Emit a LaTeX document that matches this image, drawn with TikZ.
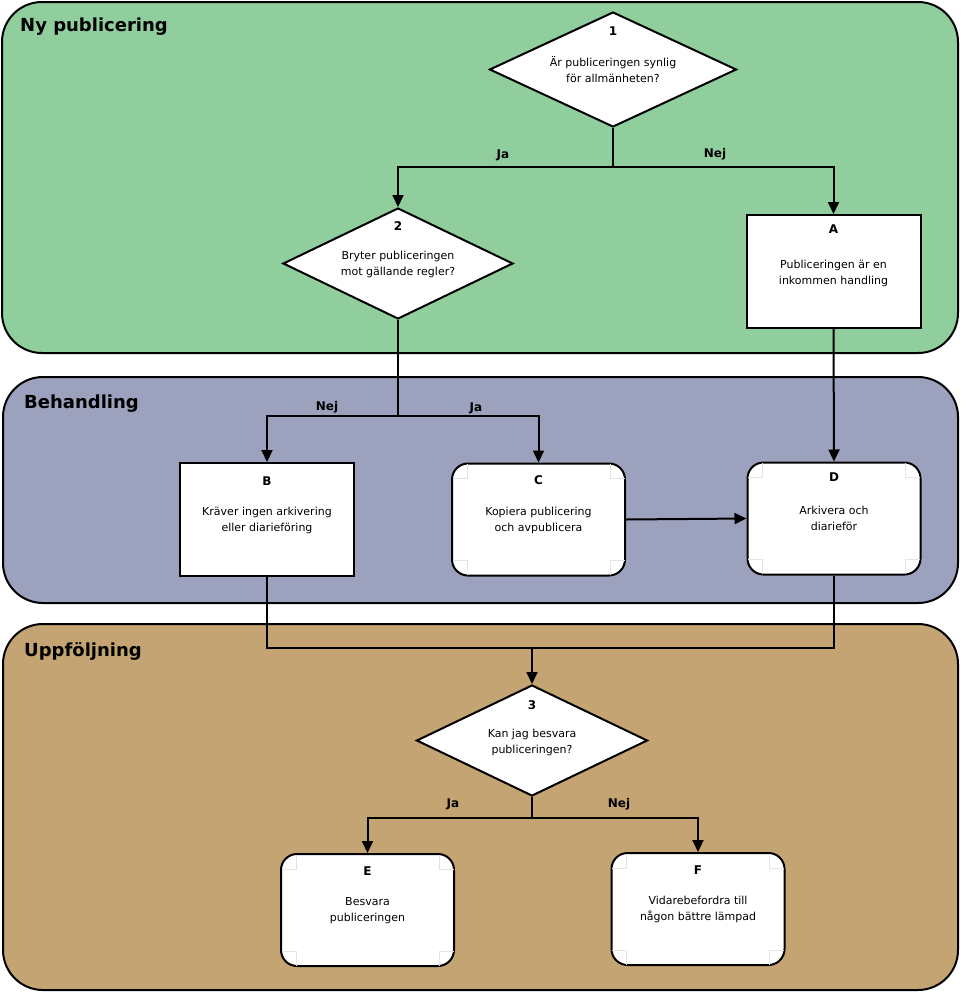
\documentclass[tikz,border=0pt]{standalone}
\usepackage{fontspec}
\setmainfont{DejaVu Sans}
\usetikzlibrary{arrows.meta,shapes.geometric}
\definecolor{laneA}{RGB}{144,206,158}
\definecolor{laneB}{RGB}{156,161,190}
\definecolor{laneC}{RGB}{196,164,114}
\definecolor{markc}{RGB}{228,228,228}
\tikzset{
  lane/.style={draw=black, line width=2pt, rounded corners=40pt},
  lanetitle/.style={anchor=west, inner sep=0pt, font=\bfseries\fontsize{18}{20}\selectfont},
  diam/.style={diamond, draw=black, fill=white, line width=2pt, inner sep=0pt, minimum width=#1},
  sqbox/.style={rectangle, draw=black, fill=white, line width=2pt, inner sep=0pt, minimum width=174pt, minimum height=113pt},
  rbox/.style={rectangle, rounded corners=16pt, draw=black, fill=white, line width=2pt, inner sep=0pt, minimum width=173pt, minimum height=112pt},
  letter/.style={inner sep=0pt, font=\bfseries\fontsize{12}{13}\selectfont},
  body/.style={inner sep=0pt, align=center, font=\fontsize{11}{16}\selectfont},
  elabel/.style={inner sep=0pt, font=\bfseries\fontsize{12}{13}\selectfont},
  conn/.style={line width=2pt, -{Triangle[length=12pt,width=11pt]}},
  plain/.style={line width=2pt},
  cornermark/.style={draw=markc, line width=0.8pt}
}
\begin{document}
\begin{tikzpicture}[x=1pt,y=-1pt]
\useasboundingbox (0,0) rectangle (961,993);
% lanes
\path[lane, fill=laneA] (2,2) rectangle (958,353);
\path[lane, fill=laneB] (3,377) rectangle (958,603);
\path[lane, fill=laneC] (3,624) rectangle (958,990);
\node[lanetitle] (t1) at (20,27) {Ny publicering};
\node[lanetitle] (t2) at (24,404) {Behandling};
\node[lanetitle] (t3) at (24,651) {Uppföljning};

% decision 1
\node[diam=247pt, minimum height=115pt] (d1) at (613,69.5) {};
\node[letter] (d1l) at (613,31) {1};
\node[body] (d1t) at (613,70) {Är publiceringen synlig\\för allmänheten?};
% decision 2
\node[diam=230pt, minimum height=111pt] (d2) at (398,263.5) {};
\node[letter] (d2l) at (398,226) {2};
\node[body] (d2t) at (398,264) {Bryter publiceringen\\mot gällande regler?};
% box A
\node[sqbox] (A) at (833.5,271.5) {};
\node[letter] (Al) at (833.5,229) {A};
\node[body] (At) at (833.5,273) {Publiceringen är en\\inkommen handling};
% box B
\node[sqbox] (B) at (267,519.5) {};
\node[letter] (Bl) at (267,481) {B};
\node[body] (Bt) at (267,520) {Kräver ingen arkivering\\eller diarieföring};
% box C
\node[rbox] (C) at (538.5,519.5) {};
\node[letter] (Cl) at (538.5,480) {C};
\node[body] (Ct) at (538.5,520) {Kopiera publicering\\och avpublicera};
% box D
\node[rbox] (D) at (834,518.5) {};
\node[letter] (Dl) at (834,477) {D};
\node[body] (Dt) at (834,518) {Arkivera och\\diarieför};
% decision 3
\node[diam=231pt, minimum height=111pt] (d3) at (532,740.5) {};
\node[letter] (d3l) at (532,705) {3};
\node[body] (d3t) at (532,742) {Kan jag besvara\\publiceringen?};
% box E
\node[rbox] (E) at (367.5,910) {};
\node[letter] (El) at (367.5,871) {E};
\node[body] (Et) at (367.5,911) {Besvara\\publiceringen};
% box F
\node[rbox] (F) at (698,909) {};
\node[letter] (Fl) at (698,870) {F};
\node[body] (Ft) at (698,909) {Vidarebefordra till\\någon bättre lämpad};

% faint corner marks in rounded boxes
\foreach \n in {C,D,E,F}{
  \draw[cornermark] (\n.north west) ++(16,1.5) -- ++(0,14.5) -- ++(-14.5,0);
  \draw[cornermark] (\n.north east) ++(-16,1.5) -- ++(0,14.5) -- ++(14.5,0);
  \draw[cornermark] (\n.south west) ++(16,-1.5) -- ++(0,-14.5) -- ++(-14.5,0);
  \draw[cornermark] (\n.south east) ++(-16,-1.5) -- ++(0,-14.5) -- ++(14.5,0);
}

% connectors
\coordinate (j1) at (613,167);
\draw[plain] (d1.south) -- (j1);
\draw[conn] (j1) -| (d2.north);
\draw[conn] (j1) -| (A.north);
\node[elabel] (l1) at (503,155) {Ja};
\node[elabel] (l2) at (715,154) {Nej};

\coordinate (j2) at (398,416);
\draw[plain] (d2.south) -- (j2);
\draw[conn] (j2) -| (B.north);
\draw[conn] (j2) -| (C.north);
\node[elabel] (l3) at (327,407) {Nej};
\node[elabel] (l4) at (476,408) {Ja};

\draw[conn] (A.south) -- (D.north);
\draw[conn] (C.east) -- (D.west);

\coordinate (j3) at (532,648);
\draw[plain] (B.south) |- (j3);
\draw[plain] (D.south) |- (j3);
\draw[conn] (j3) -- (d3.north);

\coordinate (j4) at (532,818);
\draw[plain] (d3.south) -- (j4);
\draw[conn] (j4) -| (E.north);
\draw[conn] (j4) -| (F.north);
\node[elabel] (l5) at (453,804) {Ja};
\node[elabel] (l6) at (619,804) {Nej};
\end{tikzpicture}
\end{document}
